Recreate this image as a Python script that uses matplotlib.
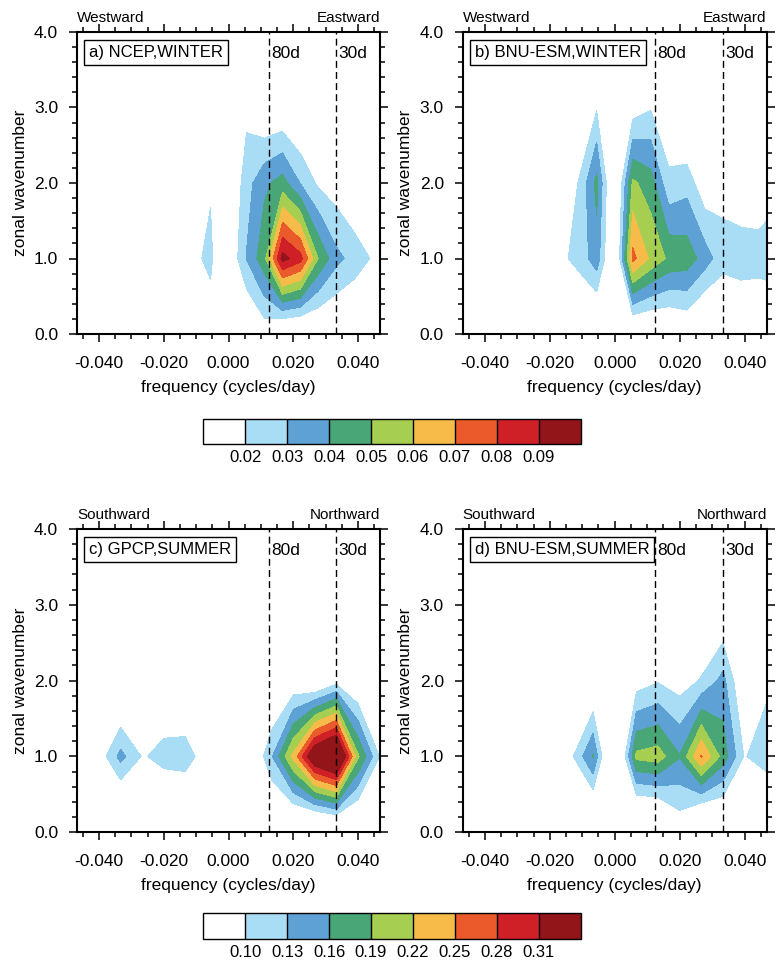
import numpy as np
import matplotlib
matplotlib.use('Agg')
import matplotlib.pyplot as plt
from matplotlib.ticker import MultipleLocator, FormatStrFormatter

plt.rcParams['font.family'] = ['Liberation Sans', 'DejaVu Sans']
plt.rcParams['axes.unicode_minus'] = False

# ---------------- data ----------------
wavenumber = [0, 1, 2, 3, 4]
freq_winter = [k / 180.0 for k in range(-9, 10)]   # cycles/day
freq_summer = [k / 150.0 for k in range(-8, 9)]

ncep_winter = [
    [0.002, 0.002, 0.003, 0.003, 0.003, 0.004, 0.004, 0.006, 0.0161, 0.005, 0.0043, 0.013, 0.001, 0.000, 0.004, 0.005, 0.004, 0.003, 0.002],
    [0.004, 0.005, 0.006, 0.007, 0.008, 0.010, 0.013, 0.0184, 0.0215, 0.009, 0.0305, 0.047, 0.094, 0.084, 0.0495, 0.033, 0.026, 0.019, 0.012],
    [0.003, 0.003, 0.004, 0.005, 0.006, 0.007, 0.008, 0.010, 0.0193, 0.0065, 0.0258, 0.0378, 0.044, 0.0295, 0.018, 0.014, 0.0084, 0.006, 0.004],
    [0.002, 0.002, 0.003, 0.003, 0.004, 0.004, 0.004, 0.005, 0.006, 0.008, 0.0171, 0.0078, 0.009, 0.005, 0.004, 0.004, 0.003, 0.003, 0.002],
    [0.002, 0.002, 0.002, 0.002, 0.002, 0.002, 0.002, 0.002, 0.002, 0.002, 0.002, 0.002, 0.002, 0.002, 0.002, 0.002, 0.002, 0.002, 0.002],
]
bnu_winter = [
    [0.003, 0.003, 0.004, 0.004, 0.005, 0.005, 0.006, 0.0068, 0.000, 0.000, 0.002, 0.002, 0.004, 0.008, 0.000, 0.0056, 0.015, 0.0143, 0.012],
    [0.004, 0.005, 0.006, 0.008, 0.010, 0.013, 0.018, 0.0227, 0.036, 0.000, 0.073, 0.058, 0.048, 0.046, 0.035, 0.0236, 0.022, 0.022, 0.024],
    [0.003, 0.004, 0.004, 0.005, 0.006, 0.008, 0.010, 0.0205, 0.043, 0.000, 0.052, 0.0447, 0.0225, 0.026, 0.012, 0.0168, 0.0172, 0.0167, 0.018],
    [0.002, 0.003, 0.003, 0.004, 0.004, 0.005, 0.005, 0.008, 0.019, 0.005, 0.014, 0.019, 0.0106, 0.002, 0.004, 0.004, 0.004, 0.004, 0.004],
    [0.002, 0.002, 0.002, 0.002, 0.002, 0.002, 0.002, 0.002, 0.002, 0.002, 0.002, 0.002, 0.002, 0.002, 0.002, 0.002, 0.002, 0.002, 0.002],
]
gpcp_summer = [
    [0.020, 0.025, 0.030, 0.011, 0.040, 0.0685, 0.060, 0.040, 0.030, 0.030, 0.040, 0.022, 0.000, 0.010, 0.028, 0.030, 0.020],
    [0.030, 0.050, 0.080, 0.140, 0.098, 0.106, 0.110, 0.088, 0.070, 0.056, 0.127, 0.228, 0.355, 0.400, 0.195, 0.099, 0.050],
    [0.020, 0.030, 0.035, 0.037, 0.050, 0.081, 0.072, 0.050, 0.040, 0.040, 0.050, 0.070, 0.053, 0.085, 0.059, 0.040, 0.030],
    [0.020, 0.020, 0.030, 0.030, 0.030, 0.030, 0.030, 0.030, 0.030, 0.030, 0.030, 0.030, 0.030, 0.030, 0.030, 0.030, 0.020],
    [0.020, 0.020, 0.020, 0.020, 0.020, 0.020, 0.020, 0.020, 0.020, 0.020, 0.020, 0.020, 0.020, 0.020, 0.020, 0.020, 0.020],
]
bnu_summer = [
    [0.020, 0.020, 0.025, 0.030, 0.030, 0.030, 0.030, 0.020, 0.005, 0.005, 0.010, 0.075, 0.003, 0.030, 0.030, 0.000, 0.030],
    [0.030, 0.040, 0.050, 0.060, 0.070, 0.080, 0.094, 0.163, 0.010, 0.198, 0.205, 0.162, 0.253, 0.178, 0.097, 0.125, 0.130],
    [0.030, 0.030, 0.035, 0.040, 0.040, 0.040, 0.040, 0.056, 0.010, 0.083, 0.097, 0.084, 0.103, 0.140, 0.060, 0.089, 0.090],
    [0.030, 0.030, 0.030, 0.030, 0.030, 0.030, 0.030, 0.030, 0.030, 0.030, 0.030, 0.030, 0.050, 0.060, 0.040, 0.050, 0.050],
    [0.020, 0.020, 0.020, 0.020, 0.020, 0.020, 0.020, 0.020, 0.020, 0.020, 0.020, 0.020, 0.020, 0.020, 0.020, 0.020, 0.020],
]

levels_winter = [0.02, 0.03, 0.04, 0.05, 0.06, 0.07, 0.08, 0.09]
levels_summer = [0.10, 0.13, 0.16, 0.19, 0.22, 0.25, 0.28, 0.31]
level_labels_winter = ['0.02', '0.03', '0.04', '0.05', '0.06', '0.07', '0.08', '0.09']
level_labels_summer = ['0.10', '0.13', '0.16', '0.19', '0.22', '0.25', '0.28', '0.31']

fill_colors = ['#ffffff', '#a8ddf5', '#5ea1d4', '#49a677', '#a6ce50',
               '#f7bb4a', '#eb5a2a', '#cf2028', '#911519']

period_lines = [1 / 80.0, 1 / 30.0]
period_labels = ['80d', '30d']
x_ticks = [-0.04, -0.02, 0.0, 0.02, 0.04]
y_ticks = [0, 1, 2, 3, 4]

# ---------------- layout ----------------
W, H = 780, 973
fig = plt.figure(figsize=(W / 100, H / 100), dpi=100)


def rect(l, t, r, b):
    return [l / W, 1 - b / H, (r - l) / W, (b - t) / H]


ax_a = fig.add_axes(rect(77, 32, 380, 334))
ax_b = fig.add_axes(rect(462.7, 32, 766.7, 334))
ax_c = fig.add_axes(rect(77, 529, 380, 832.3))
ax_d = fig.add_axes(rect(462.7, 529, 766.7, 832.3))
cax1 = fig.add_axes(rect(203.3, 419.3, 580.7, 444.3))
cax2 = fig.add_axes(rect(203.3, 913.3, 580.7, 939))


def panel(ax, freq, data, levels, title, left_txt, right_txt):
    cf = ax.contourf(freq, wavenumber, np.array(data), levels=[-1.0] + levels + [10.0],
                     colors=fill_colors)
    ax.set_xlim(-0.0468, 0.0468)
    ax.set_ylim(0, 4)
    ax.set_xticks(x_ticks)
    ax.xaxis.set_major_formatter(FormatStrFormatter('%.3f'))
    ax.xaxis.set_minor_locator(MultipleLocator(0.005))
    ax.set_yticks(y_ticks)
    ax.yaxis.set_major_formatter(FormatStrFormatter('%.1f'))
    ax.yaxis.set_minor_locator(MultipleLocator(0.2))
    ax.tick_params(which='both', direction='out', top=True, right=True, width=1.1)
    ax.tick_params(which='major', length=6, labelsize=12.5)
    ax.tick_params(which='minor', length=3.5)
    ax.tick_params(axis='x', which='major', pad=9.5)
    ax.tick_params(axis='y', which='major', pad=7.5)
    for sp in ax.spines.values():
        sp.set_linewidth(1.5)
    for xv, lab in zip(period_lines, period_labels):
        ax.axvline(xv, color='k', lw=1.0, ls=(0, (5, 3)))
        ax.text(xv + 0.0006, 3.72, lab, fontsize=12.5, ha='left', va='center')
    ax.text(0.04, 0.932, title, transform=ax.transAxes, fontsize=12, ha='left',
            va='center', bbox=dict(boxstyle='square,pad=0.3', fc='white', ec='k', lw=1.0))
    ax.text(0.0, 1.034, left_txt, transform=ax.transAxes, fontsize=11,
            ha='left', va='baseline')
    ax.text(1.0, 1.034, right_txt, transform=ax.transAxes, fontsize=11,
            ha='right', va='baseline')
    ax.set_xlabel('frequency (cycles/day)', fontsize=12.5, va='center')
    ax.xaxis.set_label_coords(0.5, -0.177)
    ax.set_ylabel('zonal wavenumber', fontsize=12.5, va='center')
    ax.yaxis.set_label_coords(-0.187, 0.5)
    return cf


cf_a = panel(ax_a, freq_winter, ncep_winter, levels_winter, 'a) NCEP,WINTER', 'Westward', 'Eastward')
panel(ax_b, freq_winter, bnu_winter, levels_winter, 'b) BNU-ESM,WINTER', 'Westward', 'Eastward')
cf_c = panel(ax_c, freq_summer, gpcp_summer, levels_summer, 'c) GPCP,SUMMER', 'Southward', 'Northward')
panel(ax_d, freq_summer, bnu_summer, levels_summer, 'd) BNU-ESM,SUMMER', 'Southward', 'Northward')


def colorbar(cf, cax, levels, labels):
    cb = fig.colorbar(cf, cax=cax, orientation='horizontal', spacing='uniform',
                      drawedges=True, ticks=levels)
    cb.set_ticklabels(labels)
    cb.ax.tick_params(length=0, labelsize=12, pad=4)
    cb.outline.set_linewidth(1.0)
    cb.dividers.set_color('k')
    cb.dividers.set_linewidth(1.0)


colorbar(cf_a, cax1, levels_winter, level_labels_winter)
colorbar(cf_c, cax2, levels_summer, level_labels_summer)

fig.savefig('out.png', dpi=100)
